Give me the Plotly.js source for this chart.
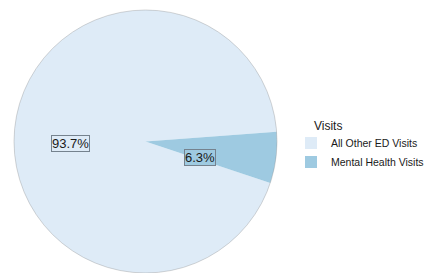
<!DOCTYPE html>
<html>
<head>
<meta charset="utf-8">
<script src="https://cdn.plot.ly/plotly-3.0.1.min.js"></script>
<style>html,body{margin:0;padding:0;background:#fff;}#chart{width:430px;height:273px;}</style>
</head>
<body>
<div id="chart"></div>
<script>
var categories = ["All Other ED Visits", "Mental Health Visits"];
var percents = [93.7, 6.3];
var colors = ["#DEEBF7", "#9ECAE1"];
var legendTitle = "Visits";

var FONT = "Liberation Sans, Arial, Helvetica, sans-serif";

// label positions (paper coords) for the boxed percentage labels
var labelPos = [[70.5/430, 1 - 143.5/273], [200.3/430, 1 - 157.5/273]];

var annotations = categories.map(function (c, i) {
  return {
    xref: "paper", yref: "paper",
    x: labelPos[i][0], y: labelPos[i][1],
    xanchor: "center", yanchor: "middle",
    text: percents[i].toFixed(1) + "%",
    showarrow: false,
    font: {family: FONT, size: 13, color: "#1a1a1a"},
    bgcolor: colors[i],
    bordercolor: "#75828e",
    borderwidth: 1,
    borderpad: 0
  };
});

// legend title drawn as an annotation so it lines up with the swatches
annotations.push({
  xref: "paper", yref: "paper",
  x: 312/430, y: 1 - 126/273,
  xanchor: "left", yanchor: "middle",
  text: legendTitle, showarrow: false,
  font: {family: FONT, size: 12, color: "#1a1a1a"}
});

var dom = {x: [14/430, 277/430], y: [0, 1 - 10/273]};

var trace = {
  type: "pie",
  labels: categories,
  values: percents,
  sort: false,
  direction: "clockwise",
  rotation: 108.4,
  marker: {colors: colors, line: {width: 0}},
  textinfo: "none",
  hoverinfo: "label+percent",
  domain: dom
};

var layout = {
  width: 430, height: 273,
  margin: {l: 0, r: 0, t: 0, b: 0, autoexpand: false},
  paper_bgcolor: "#ffffff",
  showlegend: true,
  legend: {
    x: 291/430, y: 1 - 152.5/273, xanchor: "left", yanchor: "middle",
    font: {family: FONT, size: 10.5, color: "#1a1a1a"},
    itemwidth: 30,
    tracegroupgap: 0,
    bgcolor: "rgba(0,0,0,0)"
  },
  annotations: annotations,
  shapes: [{
    type: "circle", xref: "paper", yref: "paper",
    x0: dom.x[0], x1: dom.x[1], y0: dom.y[0], y1: dom.y[1],
    line: {color: "rgba(140,140,140,0.6)", width: 0.6},
    fillcolor: "rgba(0,0,0,0)"
  }]
};

Plotly.newPlot("chart", [trace], layout, {displayModeBar: false, staticPlot: true});
</script>
</body>
</html>
